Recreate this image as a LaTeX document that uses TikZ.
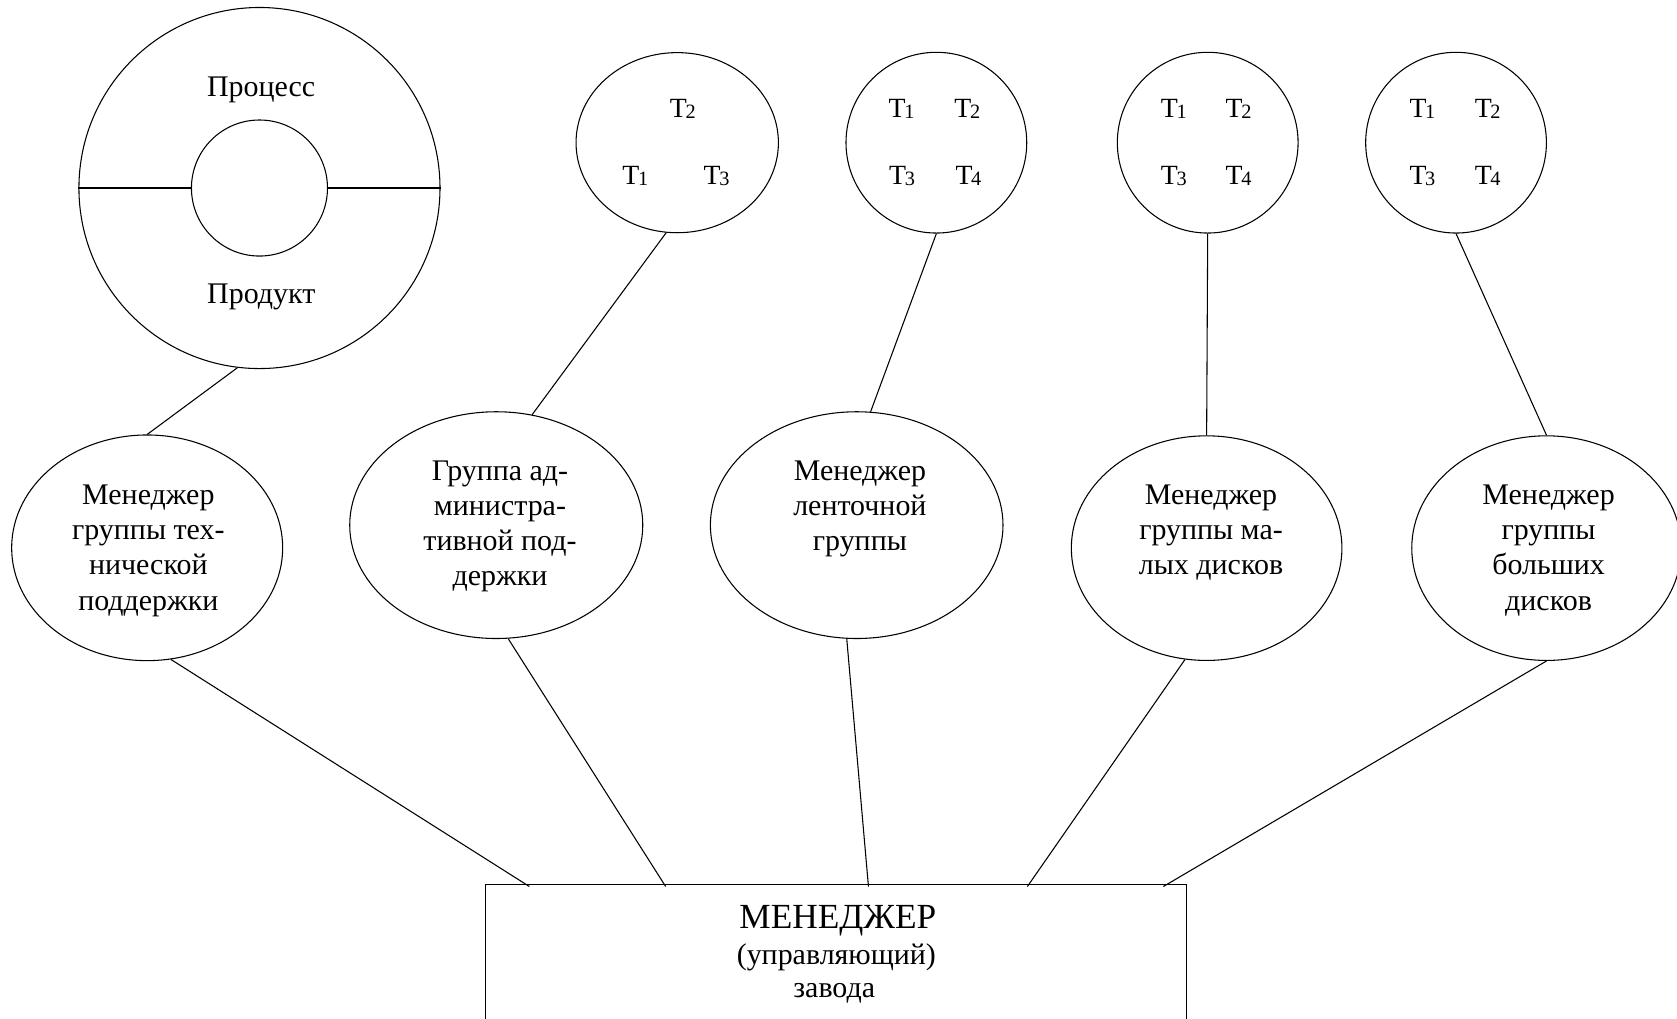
\documentclass[tikz,border=0pt]{standalone}
\usepackage{fontspec}
\setmainfont{Liberation Serif}
\usetikzlibrary{shapes.geometric}
\newcommand{\mlines}[1]{\begin{tabular}[t]{@{}c@{}}#1\end{tabular}}
\newcommand{\Tn}[1]{T\kern-1.2pt\raisebox{-1.3pt}{\fontsize{19}{19}\selectfont #1}}
\begin{document}
\begin{tikzpicture}[x=1pt,y=-1pt,line width=1pt,
  ell/.style={draw, ellipse, inner sep=0pt},
  circ/.style={draw, circle, inner sep=0pt, minimum size=169pt},
  txt/.style={inner sep=0pt, anchor=base, font=\fontsize{28}{32.8}\selectfont},
  tlab/.style={inner sep=0pt, anchor=base, font=\fontsize{26}{30}\selectfont},
  big/.style={inner sep=0pt, anchor=base, font=\fontsize{33}{36}\selectfont}]
\useasboundingbox (0,0) rectangle (1568,952);

% top-left process/product circle
\node[circ, minimum size=337.6pt] (big) at (242.6,175.8) {};
\node[circ, minimum size=127.2pt] (inner) at (242.6,175.8) {};
\draw (big.west) -- (inner.west);
\draw (inner.east) -- (big.east);
\node[txt] (proc) at (244.2,90.4) {Процесс};
\node[txt] (prod) at (244.3,284.2) {Продукт};

% T circles
\node[ell, minimum width=189.2pt, minimum height=168.4pt] (c1) at (633.2,133.4) {};
\node[circ] (c2) at (875.5,133.4) {};
\node[circ] (c3) at (1129.2,133.4) {};
\node[circ] (c4) at (1361.4,133.4) {};

\node[tlab] (c1t2) at (638.5,109.5) {\Tn2};
\node[tlab] (c1t1) at (594,172.5) {\Tn1};
\node[tlab] (c1t3) at (670,172.5) {\Tn3};

\node[tlab] (c2t1) at (843,109.5) {\Tn1};
\node[tlab] (c2t2) at (904.5,109.5) {\Tn2};
\node[tlab] (c2t3) at (843.5,172.5) {\Tn3};
\node[tlab] (c2t4) at (905.5,172.5) {\Tn4};

\node[tlab] (c3t1) at (1097.5,109.5) {\Tn1};
\node[tlab] (c3t2) at (1158,109.5) {\Tn2};
\node[tlab] (c3t3) at (1097.5,172.5) {\Tn3};
\node[tlab] (c3t4) at (1158,172.5) {\Tn4};

\node[tlab] (c4t1) at (1330,109.5) {\Tn1};
\node[tlab] (c4t2) at (1391,109.5) {\Tn2};
\node[tlab] (c4t3) at (1330,172.5) {\Tn3};
\node[tlab] (c4t4) at (1391,172.5) {\Tn4};

% middle ellipses
\node[ell, minimum width=253.4pt, minimum height=211pt] (e1) at (137.6,512.2) {};
\node[ell, minimum width=274pt, minimum height=212pt] (e2) at (464,491) {};
\node[ell, minimum width=273.6pt, minimum height=212pt] (e3) at (801,491) {};
\node[ell, minimum width=253pt, minimum height=210pt] (e4) at (1128.2,512.5) {};
\node[ell, minimum width=252pt, minimum height=210pt] (e5) at (1446,512.5) {};

\node[txt] (e1t) at (138.7,472) {\mlines{Менеджер\\группы тех-\\нической\\поддержки}};
\node[txt] (e2t) at (467.5,449.5) {\mlines{Группа ад-\\министра-\\тивной под-\\держки}};
\node[txt] (e3t) at (804,449.5) {\mlines{Менеджер\\ленточной\\группы}};
\node[txt] (e4t) at (1132.3,472) {\mlines{Менеджер\\группы ма-\\лых дисков}};
\node[txt] (e5t) at (1447.9,472) {\mlines{Менеджер\\группы\\больших\\дисков}};

% bottom box
\node[draw, inner sep=0pt, minimum width=655.1pt, minimum height=140pt, anchor=north west] (box) at (453.5,826.9) {};
\node[big] (bt1) at (783.4,868) {МЕНЕДЖЕР};
\node[txt] (bt2) at (782,901.4) {(управляющий)};
\node[txt] (bt3) at (780,932.5) {завода};

\coordinate (b1) at ([shift={(41.5,2)}]box.north west);
\coordinate (b2) at ([shift={(168.9,2)}]box.north west);
\coordinate (b3) at ([shift={(358.5,2)}]box.north west);
\coordinate (b4) at ([shift={(507.1,2)}]box.north west);
\coordinate (b5) at ([shift={(634.2,2)}]box.north west);

% connectors
\draw (big.-97.3) -- (e1.north);
\draw (c1.-97) -- (e2.72.8);
\draw (c2.south) -- (e3.83.5);
\draw (c3.south) -- (e4.north);
\draw (c4.south) -- (e5.north);
\draw (e1.-78.4) -- (b1);
\draw (e2.-84) -- (b2);
\draw (e3.-95.4) -- (b3);
\draw (e4.-101.2) -- (b4);
\draw (e5.south) -- (b5);
\end{tikzpicture}
\end{document}
